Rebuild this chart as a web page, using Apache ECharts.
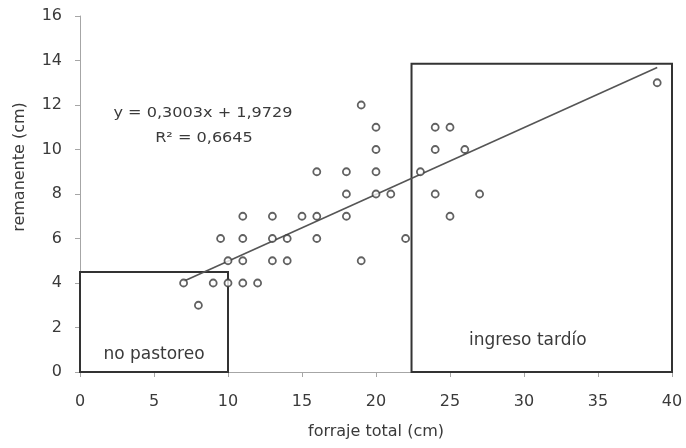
<!DOCTYPE html>
<html><head><meta charset="utf-8">
<script src="https://cdn.jsdelivr.net/npm/echarts@6/dist/echarts.min.js"></script>
<style>html,body{margin:0;padding:0;background:#fff}#c{width:686px;height:448px}</style>
</head><body><div id="c"></div>
<script>
const forraje = [7,8,9,9.5,10,10,11,11,11,11,12,13,13,13,14,14,15,16,16,16,18,18,18,19,19,20,20,20,20,21,22,23,24,24,24,25,25,26,27,39];
const remanente = [4,3,4,6,4,5,4,5,6,7,4,5,6,7,5,6,7,6,7,9,7,8,9,5,12,8,9,10,11,8,6,9,8,10,11,7,11,10,8,13];
const slope = 0.3003, intercept = 1.9729;
const trendX = [7, 39];
const boxNoPastoreo = {x:[0,10], y:[0,4.5], label:'no pastoreo'};
const boxTardio = {x:[22.4,40], y:[0,13.85], label:'ingreso tardío'};
const eqText = 'y = 0,3003x + 1,9729';
const r2Text = 'R² = 0,6645';
const xName = 'forraje total (cm)';
const yName = 'remanente (cm)';

const pts = forraje.map((x,i)=>[x, remanente[i]]);
const trend = trendX.map(x=>[x, slope*x+intercept]);
const font = '"DejaVu Sans", "Open Sans", sans-serif';
const txt = '#3a3a3a';

const chart = echarts.init(document.getElementById('c'));
chart.setOption({
  animation:false,
  grid:{left:80, right:14, top:16, bottom:76},
  xAxis:{type:'value', min:0, max:40, interval:5,
    name:xName, nameLocation:'middle', nameGap:52,
    nameTextStyle:{color:txt, fontSize:16, fontFamily:font},
    axisLine:{lineStyle:{color:'#a6a6a6', width:1}},
    axisTick:{show:true, length:5, lineStyle:{color:'#a6a6a6'}},
    axisLabel:{color:txt, fontSize:16, fontFamily:font, margin:22},
    splitLine:{show:false}},
  yAxis:{type:'value', min:0, max:16, interval:2,
    axisLine:{show:true, lineStyle:{color:'#a6a6a6', width:1}},
    axisTick:{show:true, length:5, lineStyle:{color:'#a6a6a6'}},
    axisLabel:{color:txt, fontSize:16, fontFamily:font, margin:18},
    splitLine:{show:false}},
  series:[
    {type:'line', data:trend, showSymbol:false, symbol:'none',
     lineStyle:{color:'#555', width:1.6}, z:2,
     markArea:{silent:true,
       itemStyle:{color:'rgba(0,0,0,0)', borderColor:'#333', borderWidth:2},
       label:{color:txt, fontSize:17, fontFamily:font, position:'insideBottom'},
       data:[
         [{coord:[boxNoPastoreo.x[0], boxNoPastoreo.y[1]], name:boxNoPastoreo.label, label:{distance:10}},
          {coord:[boxNoPastoreo.x[1], boxNoPastoreo.y[0]]}],
         [{coord:[boxTardio.x[0], boxTardio.y[1]], name:boxTardio.label, label:{distance:24, offset:[-14,0]}},
          {coord:[boxTardio.x[1], boxTardio.y[0]]}]
       ]}},
    {type:'scatter', data:pts, symbol:'circle', symbolSize:7,
     itemStyle:{color:'#fff', borderColor:'#3a3a3a', borderWidth:1.8}, z:3}
  ],
  graphic:[
    {type:'text', x:20, y:167, rotation:Math.PI/2, style:{text:yName, fill:txt, font:'16px '+font, textAlign:'center', textVerticalAlign:'middle'}},
    {type:'text', x:203, y:113, scaleX:1.15, style:{text:eqText, fill:txt, font:'14px '+font, textAlign:'center', textVerticalAlign:'middle'}},
    {type:'text', x:204, y:138, scaleX:1.15, style:{text:r2Text, fill:txt, font:'14px '+font, textAlign:'center', textVerticalAlign:'middle'}}
  ]
});
</script></body></html>
